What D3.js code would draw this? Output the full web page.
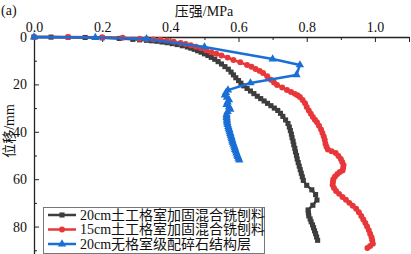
<!DOCTYPE html>
<html lang="zh">
<head>
<meta charset="UTF-8">
<title>压强-位移曲线</title>
<script src="https://cdn.jsdelivr.net/npm/d3@7"></script>
<style>
  html, body { margin: 0; padding: 0; background: #fff; }
  svg { display: block; }
  svg text { font-family: "Liberation Serif", "Noto Sans CJK SC", serif; }
</style>
</head>
<body>
<svg width="411" height="254"></svg>
<script>
// 20cm土工格室加固混合铣刨料  [压强 MPa, 位移 mm]
var blackPts = [[0,0],[0.05,0.05],[0.10,0.1],[0.15,0.2],[0.20,0.35],[0.25,0.6],[0.29,1.0],[0.31,1.2],[0.33,1.4],
  [0.345,1.6],[0.36,1.8],[0.375,2.1],[0.39,2.4],[0.405,2.8],[0.42,3.2],[0.435,3.7],[0.45,4.2],[0.46,4.7],
  [0.47,5.2],[0.48,5.8],[0.49,6.4],[0.50,7.1],[0.51,7.8],[0.52,8.6],[0.53,9.4],[0.54,10.4],[0.55,11.4],
  [0.56,12.5],[0.57,13.6],[0.578,14.8],[0.585,16],[0.592,17.2],[0.60,18.4],[0.607,19.5],[0.615,20.6],
  [0.625,21.7],[0.635,22.8],[0.645,23.9],[0.655,25],[0.665,26],[0.675,27],[0.685,28],[0.695,29],
  [0.705,30],[0.715,31],[0.723,32.2],[0.73,33.5],[0.738,35],[0.745,36.5],[0.749,38],[0.752,39.5],
  [0.755,41],[0.757,42.5],[0.76,44],[0.762,45.5],[0.765,47],[0.767,48.5],[0.77,50],[0.772,51.5],
  [0.775,53],[0.778,54.5],[0.781,56],[0.784,57.5],[0.787,59],[0.79,60.5],[0.80,62.6],[0.815,64.5],
  [0.826,66.5],[0.83,68.8],[0.818,71],[0.804,73],[0.805,74.3],[0.806,75.5],[0.81,76.8],[0.813,78],
  [0.817,79.3],[0.82,80.5],[0.823,81.8],[0.826,83],[0.829,84.4],[0.832,85.8]];

// 15cm土工格室加固混合铣刨料
var redPts = [[0,0],[0.1,0],[0.2,0.1],[0.26,0.3],[0.31,0.7],[0.33,0.85],[0.35,1.0],[0.37,1.2],[0.39,1.5],
  [0.41,2.0],[0.43,2.5],[0.445,3.0],[0.46,3.5],[0.475,4.1],[0.49,4.8],[0.505,5.6],[0.52,6.4],[0.535,7.1],
  [0.55,7.8],[0.568,8.7],[0.585,9.7],[0.605,10.7],[0.625,11.8],[0.638,12.6],[0.65,13.5],[0.662,14.3],
  [0.672,15.2],[0.684,16.6],[0.695,18],[0.704,19.2],[0.713,20.3],[0.728,21.3],[0.742,22.4],[0.754,23.2],
  [0.765,24],[0.773,24.6],[0.78,25.3],[0.788,26.6],[0.795,28],[0.80,29.5],[0.806,31],[0.812,32.4],
  [0.818,33.8],[0.824,34.9],[0.83,36],[0.836,37.5],[0.842,39],[0.846,40.5],[0.85,42],[0.853,43.5],
  [0.855,45],[0.858,46.3],[0.862,47.5],[0.873,48.2],[0.885,49],[0.893,50.2],[0.90,51.5],[0.904,52.7],
  [0.908,54],[0.907,55.2],[0.905,56.3],[0.897,57],[0.89,57.8],[0.883,58.9],[0.878,60],[0.877,61.2],
  [0.876,62.5],[0.88,63.7],[0.886,65],[0.895,66.2],[0.905,67.5],[0.915,68.7],[0.925,70],[0.935,71.2],
  [0.945,72.5],[0.953,74],[0.96,75.5],[0.966,77],[0.972,78.5],[0.977,80],[0.982,81.5],[0.986,83],
  [0.99,84.5],[0.992,85.8],[0.994,87.2],[0.986,88.2],[0.978,89]];

// 20cm无格室级配碎石结构层
var bluePts = [[0,0],[0.18,0.2],[0.33,0.8],[0.5,4.2],[0.70,9.3],[0.78,11.8],[0.77,16],[0.635,19.4],
  [0.569,22.4],[0.563,23.5],[0.56,24.5],[0.566,25.5],[0.572,26.5],[0.568,27.5],[0.565,28.5],[0.572,29.5],
  [0.576,30.5],[0.568,31.5],[0.565,32.5],[0.565,33.3],[0.565,34],[0.566,34.8],[0.566,35.5],[0.567,36.2],
  [0.568,37],[0.57,37.8],[0.571,38.5],[0.573,39.2],[0.574,40],[0.576,40.8],[0.577,41.5],[0.579,42.2],
  [0.58,43],[0.582,43.8],[0.583,44.5],[0.585,45.2],[0.587,46],[0.589,46.8],[0.59,47.5],[0.592,48.2],
  [0.594,49],[0.596,49.8],[0.598,50.5],[0.6,51.2],[0.602,52]];

var seriesNames = ["20cm土工格室加固混合铣刨料", "15cm土工格室加固混合铣刨料", "20cm无格室级配碎石结构层"];
var xTicks = [0, 0.2, 0.4, 0.6, 0.8, 1.0];
var yTicks = [0, 20, 40, 60, 80];

var series = [
  {name: seriesNames[0], pts: blackPts, color: "#3d3d3d", sym: d3.symbolSquare, size: 26},
  {name: seriesNames[1], pts: redPts, color: "#e8373a", sym: d3.symbolCircle, size: 28},
  {name: seriesNames[2], pts: bluePts, color: "#1a6fd6", sym: d3.symbolTriangle, size: 30}
];

var svg = d3.select("svg");
var x = d3.scaleLinear().domain([0, 1.1]).range([34, 409]);
var y = d3.scaleLinear().domain([0, 92]).range([37, 255]);

// 次刻度
svg.append("g").attr("transform", "translate(0," + y(0) + ")")
  .call(d3.axisTop(x).tickValues(d3.range(0.1, 1.11, 0.2)).tickSizeInner(-3).tickSizeOuter(0).tickFormat(""))
  .call(function(g){ g.select(".domain").remove(); g.selectAll("line").attr("stroke", "#222"); });
svg.append("g").attr("transform", "translate(" + x(0) + ",0)")
  .call(d3.axisLeft(y).tickValues([10, 30, 50, 70, 90]).tickSizeInner(-3).tickSizeOuter(0).tickFormat(""))
  .call(function(g){ g.select(".domain").remove(); g.selectAll("line").attr("stroke", "#222"); });

// 主坐标轴
var xAxis = svg.append("g").attr("transform", "translate(0," + y(0) + ")")
  .call(d3.axisTop(x).tickValues(xTicks.concat([1.1])).tickSizeInner(-5).tickSizeOuter(0).tickPadding(5)
    .tickFormat(function(d){ return d > 1.05 ? "" : d3.format(".1f")(d); }));
var yAxis = svg.append("g").attr("transform", "translate(" + x(0) + ",0)")
  .call(d3.axisLeft(y).tickValues(yTicks).tickSizeInner(-5).tickSizeOuter(0).tickPadding(7));
[xAxis, yAxis].forEach(function(g){
  g.attr("font-family", null).attr("font-size", null);
  g.select(".domain").attr("stroke", "#222").attr("stroke-width", 1.3);
  g.selectAll("line").attr("stroke", "#222");
  g.selectAll("text").attr("font-size", 14).attr("fill", "#111");
});

var line = d3.line().x(function(d){ return x(d[0]); }).y(function(d){ return y(d[1]); });

series.forEach(function(s){
  svg.append("path").datum(s.pts).attr("d", line)
    .attr("fill", "none").attr("stroke", s.color).attr("stroke-width", 2.5).attr("stroke-linejoin", "round");
  svg.append("g").selectAll("path").data(s.pts).enter().append("path")
    .attr("transform", function(d){ return "translate(" + x(d[0]) + "," + y(d[1]) + ")"; })
    .attr("d", d3.symbol().type(s.sym).size(s.size))
    .attr("fill", s.color);
});

// 标题
svg.append("text").attr("x", 1).attr("y", 15).attr("font-size", 14).attr("fill", "#111").text("(a)");
svg.append("text").attr("x", 204).attr("y", 16).attr("text-anchor", "middle").attr("font-size", 14)
  .attr("fill", "#111").text("压强/MPa");
svg.append("text").attr("transform", "translate(14,131) rotate(-90)").attr("text-anchor", "middle")
  .attr("font-size", 14).attr("fill", "#111").text("位移/mm");

// 图例
var lg = svg.append("g");
lg.append("rect").attr("x", 43.5).attr("y", 207.5).attr("width", 221).attr("height", 46)
  .attr("fill", "#fff").attr("stroke", "#777").attr("stroke-width", 1);
series.forEach(function(s, i){
  var cy = 215 + i * 14.5;
  lg.append("line").attr("x1", 48).attr("x2", 76).attr("y1", cy).attr("y2", cy)
    .attr("stroke", s.color).attr("stroke-width", 2.5);
  lg.append("path").attr("transform", "translate(62," + cy + ")")
    .attr("d", d3.symbol().type(s.sym).size(s.size)).attr("fill", s.color);
  lg.append("text").attr("x", 80).attr("y", cy).attr("dy", "0.35em").attr("font-size", 14)
    .attr("fill", "#111").text(s.name);
});
</script>
</body>
</html>
